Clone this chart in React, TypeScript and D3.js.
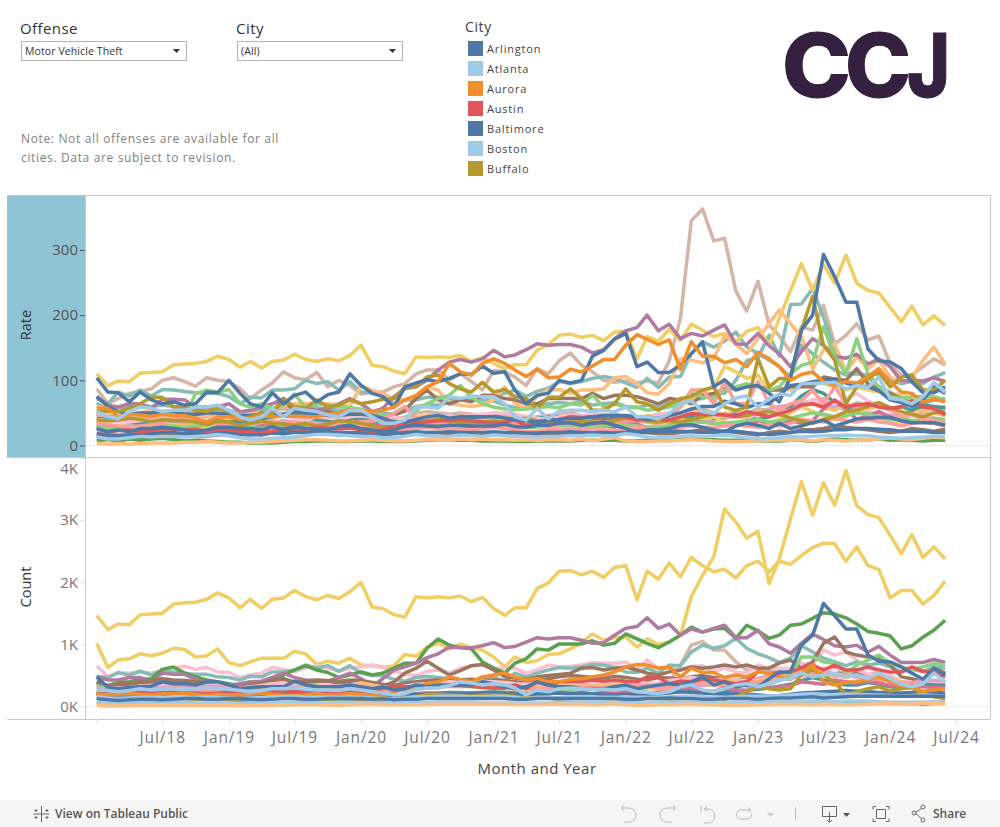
import React, { useRef, useEffect } from 'react';
import * as d3 from 'd3';

const FONT = '"Open Sans", sans-serif';

const legendCities = ['Arlington', 'Atlanta', 'Aurora', 'Austin', 'Baltimore', 'Boston', 'Buffalo'];
const legendColors = ['#4e79a7', '#a0cbe8', '#f28e2b', '#e15759', '#4e79a7', '#a0cbe8', '#b6992d'];
const rateTicks = [0, 100, 200, 300];
const countTicks = [0, 1000, 2000, 3000, 4000];

// Tableau 20 colours the workbook cycles through
const BLUE = '#4e79a7', LBLUE = '#a0cbe8', ORANGE = '#f28e2b', LORANGE = '#ffbe7d', GREEN = '#59a14f',
  LGREEN = '#8cd17d', OLIVE = '#b6992d', YELLOW = '#f1ce63', TEAL = '#499894', LTEAL = '#86bcb6',
  RED = '#e15759', PINK = '#ff9d9a', ROSE = '#d37295', LPINK = '#fabfd2', PURPLE = '#b07aa1',
  LPURPLE = '#d4a6c8', BROWN = '#9d7660', TAN = '#d7b5a6';

// Monthly rate values, Jan 2018 to Jun 2024 (78 points each)
const rateYellow = [110,92,99,98,111,112,113,124,125,126,129,137,132,120,129,119,129,131,140,132,129,133,130,138,154,123,121,114,110,136,135,136,135,138,129,135,126,118,124,124,146,155,169,171,166,169,161,174,175,133,167,160,178,161,186,177,167,172,159,175,181,154,195,238,279,238,278,249,292,249,238,234,212,190,214,185,199,184];
const rateYellow2 = [36,32,30,30,32,32,34,34,34,32,32,32,30,28,30,30,30,30,32,30,30,30,32,34,32,30,28,30,34,38,40,42,44,46,46,46,48,48,46,44,42,40,40,42,42,44,44,44,44,42,46,44,48,59,72,81,90,121,113,103,108,85,87,85,90,95,95,90,85,90,85,82,80,78,70,68,72,70];
const rateYellow3 = [30,28,26,27,28,30,32,32,30,28,28,28,26,24,26,28,28,30,30,28,26,26,28,30,28,26,24,26,30,28,30,32,34,30,28,28,30,30,28,28,30,30,32,34,30,28,30,30,28,26,28,32,38,40,38,40,44,36,34,32,30,34,40,50,60,52,46,40,44,56,48,42,36,32,34,38,40,36];
const rateTan = [87,64,72,80,83,87,100,104,98,91,104,100,98,87,72,85,96,113,104,101,112,90,100,92,79,82,82,90,95,110,116,116,100,110,98,85,115,113,105,92,118,110,130,142,123,113,100,97,99,96,99,96,130,195,345,363,314,318,237,206,252,185,168,144,182,177,215,156,169,187,162,168,126,108,108,121,133,123];
const rateTan2 = [50,46,44,44,46,50,52,54,50,48,46,48,50,48,46,48,54,56,52,50,48,46,48,50,52,46,42,40,44,50,52,50,48,50,48,46,50,46,44,42,44,46,48,50,46,44,46,48,44,42,44,48,50,46,52,56,50,48,52,50,56,54,50,58,64,70,72,60,58,66,60,62,54,50,52,50,56,50];
const rateBlue = [104,82,81,67,82,70,64,67,62,64,82,81,100,80,64,59,81,64,77,82,67,78,82,110,92,80,75,59,90,96,101,98,103,110,109,122,111,113,85,64,77,80,100,96,100,137,146,163,172,121,128,112,112,123,141,159,90,101,85,90,92,80,67,105,177,200,293,259,220,220,148,130,128,118,98,81,81,90];
const rateBlue2 = [26,21,24,21,26,26,28,26,24,21,24,28,28,26,26,24,29,24,29,26,24,24,29,31,26,24,21,24,29,31,30,29,31,31,30,30,30,33,29,28,31,31,34,35,31,34,36,31,26,21,24,24,26,31,32,28,24,21,30,34,31,26,34,26,30,35,39,30,35,41,42,43,43,38,35,35,35,31];
const rateBlue3 = [75,60,52,48,50,50,52,52,48,48,50,50,48,46,46,48,50,48,52,50,48,46,46,48,48,46,42,36,36,40,44,46,42,44,44,44,44,42,40,38,36,38,40,42,42,44,46,46,46,44,40,42,46,50,56,60,60,68,64,58,64,64,78,92,94,98,100,102,96,92,90,84,70,66,60,70,90,80];
const rateBlue4 = [18,16,15,16,18,18,20,20,18,18,18,20,20,17,16,17,19,18,20,20,20,21,20,20,19,18,17,18,20,21,20,20,21,20,20,20,21,20,20,19,19,20,20,21,20,20,20,19,20,20,20,21,22,22,21,20,21,22,22,20,18,17,18,20,22,21,22,24,24,26,26,25,24,22,22,22,20,20];
const ratePurple = [75,62,59,64,64,57,71,71,70,59,59,59,64,52,54,59,64,72,59,57,54,57,64,72,64,52,57,75,87,90,100,116,128,132,128,133,146,136,139,147,156,154,155,155,151,142,147,164,176,181,200,176,186,164,172,168,177,185,156,155,172,153,141,121,144,164,154,137,134,140,125,133,121,99,100,99,104,98];
const rateOrange = [57,57,44,48,47,44,48,46,46,42,36,44,44,40,42,46,44,45,45,44,44,48,50,55,53,52,54,59,70,77,90,98,126,113,108,126,133,126,116,106,117,104,105,117,113,122,132,132,154,170,163,155,162,117,159,137,137,127,132,121,143,133,121,100,109,113,98,92,98,96,106,118,98,82,80,67,71,67];
const rateTeal = [72,64,82,76,85,76,86,85,83,81,80,80,75,64,74,73,85,85,87,100,95,98,85,98,82,81,80,64,70,70,74,74,72,72,70,75,75,80,85,75,83,88,98,95,98,103,106,103,96,89,103,89,105,106,141,159,151,160,174,151,141,131,121,105,154,141,128,116,108,110,108,110,100,95,98,95,105,112];
const rateTeal2 = [65,55,58,60,62,60,62,60,58,55,56,56,54,50,52,54,58,56,60,60,58,56,54,52,50,52,50,48,52,60,62,62,66,70,72,70,68,62,58,58,62,64,66,64,68,62,64,66,60,58,62,60,66,68,70,72,78,80,100,130,135,169,137,216,217,241,197,146,110,113,105,90,82,72,68,64,70,72];
const rateOlive = [54,52,52,57,64,74,74,59,59,54,52,57,52,39,44,49,49,70,59,57,70,59,62,70,64,67,71,72,90,90,105,108,95,87,82,97,82,86,75,72,57,74,74,87,72,54,54,64,87,67,64,54,64,72,75,85,90,59,54,59,133,90,103,103,177,229,154,131,64,90,103,113,90,105,108,85,85,100];
const rateOlive2 = [39,38,39,42,40,37,40,38,38,36,32,37,36,30,34,37,34,33,31,34,30,33,38,37,34,30,28,26,30,34,38,40,38,36,34,36,38,36,40,42,38,36,34,36,38,36,34,38,42,40,38,36,38,36,40,44,48,46,44,46,50,52,48,42,38,34,40,44,52,54,60,66,58,52,48,44,50,52];
const rateLightOrange = [60,56,52,48,50,54,48,46,50,52,48,44,50,46,48,50,52,60,64,64,66,64,62,60,92,85,80,72,70,75,90,85,64,62,60,62,70,90,64,57,75,85,86,80,85,85,87,104,106,95,81,79,95,133,131,127,133,169,156,141,164,187,208,187,167,118,146,156,113,136,118,131,105,98,103,131,151,125];
const rateLightOrange2 = [44,42,40,40,42,46,44,40,38,40,44,42,40,44,42,38,44,48,46,44,42,40,38,42,44,40,36,34,38,44,46,42,40,38,42,40,44,42,40,38,38,40,42,44,42,40,42,44,40,38,40,44,46,50,54,48,44,50,46,48,52,50,46,56,60,64,58,54,62,58,56,60,54,48,50,54,50,46];
const rateLightGreen = [36,30,28,30,32,34,34,36,42,80,85,82,86,64,59,64,57,62,79,59,64,62,60,58,56,50,46,42,39,54,64,72,77,92,74,64,59,56,55,56,58,60,58,64,62,77,59,64,59,59,54,56,59,64,80,75,72,85,90,95,90,85,90,110,123,128,182,136,110,164,110,90,75,72,75,75,75,70];
const rateLightGreen2 = [30,26,24,26,28,28,30,30,28,30,32,32,34,30,28,26,28,30,32,32,30,28,28,30,32,30,26,24,26,30,28,30,28,30,32,30,30,32,30,28,28,30,30,32,30,28,30,32,32,30,28,28,30,32,34,36,34,34,36,38,40,36,38,42,46,50,48,44,46,50,48,44,40,42,38,40,42,40];
const rateBrown = [48,44,42,40,42,44,46,46,44,42,40,40,38,38,42,50,52,72,52,48,50,52,48,46,50,44,42,46,54,72,85,70,64,70,67,77,77,72,70,64,64,72,72,72,72,80,72,77,77,75,70,64,72,70,64,77,80,87,87,90,92,85,85,90,90,90,105,102,100,118,95,85,80,72,64,54,54,59];
const rateLightBlue = [52,44,41,52,59,57,52,54,54,59,59,62,54,44,39,44,57,44,57,54,52,47,44,54,54,44,34,34,39,59,59,57,75,72,76,75,75,64,44,39,57,41,53,54,54,52,54,52,59,44,44,41,49,64,69,52,49,64,73,76,59,72,79,77,95,95,96,97,87,92,89,105,72,70,64,75,97,82];
const rateRed = [26,21,23,24,21,23,26,25,24,25,22,24,24,22,22,21,22,26,27,25,28,27,26,27,24,22,24,30,33,35,36,38,38,40,38,36,34,36,39,31,36,39,40,44,43,44,44,44,44,39,44,41,39,44,49,48,48,47,45,52,48,44,49,54,62,64,59,69,59,62,64,59,57,59,69,59,57,47];
const ratePink = [35,32,30,28,30,32,34,40,44,38,34,32,30,30,34,36,38,34,36,34,32,30,30,34,36,38,40,50,60,42,34,36,34,32,32,30,30,32,34,32,30,30,32,34,34,36,36,36,38,38,36,34,40,60,85,85,64,98,64,64,98,64,54,64,69,85,64,90,64,57,64,62,54,44,49,39,39,34];
const ratePink2 = [20,18,17,18,20,22,24,26,24,22,20,20,24,28,24,22,24,26,26,24,24,26,24,28,30,26,22,20,24,26,28,26,26,24,24,26,28,26,24,22,22,24,24,26,24,26,24,22,26,28,26,24,24,28,30,28,28,30,32,30,28,32,30,34,40,38,36,42,38,36,40,36,34,30,34,36,34,30];
const ratePinkLight = [40,38,36,36,38,40,44,50,46,42,40,44,48,44,42,44,48,46,42,40,44,42,40,44,46,44,42,44,40,40,42,44,46,44,46,48,50,50,48,44,42,40,44,46,46,48,48,46,44,42,44,46,50,48,50,48,46,44,44,42,48,50,52,54,60,70,66,64,72,80,68,62,56,50,44,46,42,40];
const ratePurpleLight = [32,30,28,30,32,34,36,36,34,20,22,30,34,36,34,32,36,38,36,34,36,34,32,34,36,34,32,30,32,34,38,36,34,38,40,38,36,34,32,30,34,32,36,38,36,36,38,36,34,36,38,36,34,32,34,36,40,42,44,50,52,56,60,62,64,66,60,58,56,54,50,48,46,44,46,50,52,48];
const rateGreen = [8,9,7,10,8,10,11,9,7,8,7,6,5,5,4,4,4,5,6,6,7,7,6,6,7,7,6,6,6,7,8,9,9,8,8,7,7,7,6,6,7,7,7,7,8,8,8,8,7,7,8,8,8,9,10,9,9,8,8,8,7,7,7,8,8,6,8,10,9,8,9,10,8,9,8,7,8,8];
const rateLightBlueLow = [13,10,10,12,14,13,14,14,13,14,15,17,15,12,10,10,11,12,13,15,17,17,16,15,14,14,12,12,14,17,15,14,14,16,15,14,16,15,14,14,13,14,14,15,15,16,15,15,18,16,13,12,13,14,15,14,15,16,14,12,10,11,12,14,13,14,15,15,16,15,15,13,12,11,12,13,14,14];
const rateOrangeLow = [3,2,3,2,3,4,4,4,5,5,6,5,4,4,5,5,6,7,8,9,9,8,7,7,8,9,8,7,7,8,9,10,9,10,9,10,9,9,8,9,8,9,9,8,10,7,10,12,7,6,6,7,7,8,9,8,7,6,6,6,7,8,9,8,9,7,9,8,7,8,9,10,12,10,9,11,13,12];
const rateBrownLow = [15,12,10,10,12,14,16,16,15,14,14,16,18,20,18,16,20,22,22,20,18,18,16,18,20,22,22,20,18,18,20,20,18,20,18,16,18,18,20,18,16,15,16,18,16,18,18,16,20,22,20,18,18,20,22,24,20,22,20,18,16,20,22,20,24,24,26,30,28,26,24,22,20,22,26,24,22,25];
const rateTealDark = [42,40,38,36,34,36,38,40,40,42,40,38,36,36,38,40,44,46,50,42,40,38,40,42,40,38,36,34,36,38,42,44,46,44,42,44,46,42,40,40,42,44,44,42,44,42,42,40,38,36,38,42,44,40,44,46,42,44,48,44,40,44,52,60,76,86,80,66,58,60,64,60,56,60,54,62,60,58];
const rateRose = [30,28,26,24,26,28,30,28,26,24,22,24,26,28,26,30,32,30,34,30,28,26,30,34,38,34,30,28,34,34,32,30,32,30,28,30,32,34,30,30,32,34,34,32,30,32,30,28,34,32,28,26,30,34,38,36,34,32,34,30,38,34,32,38,34,38,56,70,56,40,46,52,44,38,36,36,34,32];

// Monthly count values, same months
const countYellowA = [1470,1240,1330,1320,1480,1490,1500,1650,1670,1680,1730,1830,1750,1590,1730,1580,1730,1750,1870,1770,1720,1790,1740,1850,2000,1600,1580,1480,1440,1770,1750,1770,1750,1780,1690,1760,1580,1470,1590,1590,1900,1990,2180,2190,2120,2180,2080,2240,2270,1720,2180,2050,2310,2090,2400,2270,2170,2210,2070,2270,2340,2170,2340,2290,2430,2560,2630,2620,2340,2570,2270,2210,1750,1870,1870,1650,1790,2020];
const countYellowB = [1020,630,750,770,850,820,860,940,920,800,820,930,710,660,720,780,780,780,890,850,680,730,700,780,670,660,630,660,840,810,960,1020,930,1010,950,910,800,640,800,710,740,840,850,930,1030,1170,1070,1110,1120,960,1090,1000,1040,1150,1770,2110,2410,3180,2970,2710,2820,1980,2380,3020,3620,3080,3600,3240,3800,3230,3090,3040,2760,2460,2770,2400,2570,2380];
const countGreen = [400,340,390,400,440,450,600,640,540,480,430,400,370,320,350,360,400,510,590,660,590,550,470,510,560,510,540,620,700,700,940,1090,990,950,930,720,620,540,700,770,930,910,1010,1010,1010,1060,990,1020,1170,1090,1020,950,1040,1150,1280,1200,1250,1260,1100,1310,1220,1100,1150,1310,1330,1420,1510,1490,1430,1330,1210,1180,1140,930,980,1120,1230,1390];
const countPurple = [480,430,430,470,470,400,540,520,520,440,370,390,350,370,400,410,470,540,470,430,420,410,470,540,450,330,450,590,640,700,790,850,960,950,950,980,1030,950,970,1040,1110,1090,1110,1110,1070,1020,1030,1150,1260,1290,1430,1260,1330,1150,1250,1200,1260,1310,1110,1110,1230,1010,960,860,1020,1170,1080,980,960,990,880,970,830,710,710,710,760,710];
const countPinkLight = [660,480,540,540,560,540,590,620,650,600,630,560,550,470,510,540,630,600,560,620,660,620,570,620,640,670,640,570,520,500,570,590,540,620,660,680,620,620,620,540,590,670,640,650,670,710,700,700,720,590,750,620,620,590,650,660,560,620,560,540,670,620,620,620,700,670,910,830,880,750,620,560,510,400,350,350,350,290];
const countPinkLight2 = [320,300,300,310,330,340,350,370,360,340,340,350,320,300,320,340,370,380,350,340,350,340,330,350,380,340,320,310,330,360,370,380,400,390,400,410,400,390,370,360,380,400,400,410,420,400,380,400,410,400,370,380,420,440,470,440,420,450,430,420,440,470,480,490,500,520,580,620,560,590,530,500,440,400,390,380,400,370];
const countTeal = [490,470,550,510,570,510,580,560,540,520,520,480,470,430,490,480,560,560,590,670,620,660,570,660,540,500,500,440,410,470,490,470,450,410,400,440,480,400,540,480,540,590,630,620,640,680,670,630,560,550,620,540,670,660,880,990,940,980,1100,940,850,790,710,780,980,880,780,720,660,720,670,700,640,560,600,560,640,620];
const countBlue = [480,310,290,310,320,330,400,370,370,350,400,400,350,290,310,320,320,320,410,350,320,320,320,350,320,290,320,270,290,350,320,350,350,350,350,400,370,320,290,320,400,350,320,320,290,290,290,320,350,290,320,350,370,350,400,480,350,400,320,350,320,450,560,560,990,1150,1660,1460,1250,1250,830,730,720,640,540,440,620,510];
const countTan = [300,290,300,310,340,360,350,380,390,370,360,330,300,280,320,350,380,420,380,360,340,330,320,340,360,300,310,340,360,380,400,420,390,380,360,330,340,330,340,350,380,360,390,400,390,360,340,330,340,330,340,340,400,670,990,1050,910,910,720,590,620,600,560,520,560,530,620,500,540,600,520,540,440,350,340,380,420,400];
const countBrown = [400,310,340,360,390,400,420,400,420,390,370,340,340,300,340,360,430,450,350,370,400,410,380,370,390,380,330,400,540,620,730,620,510,580,660,680,590,480,460,440,480,500,520,540,620,630,590,620,640,590,540,510,560,590,640,620,640,670,640,670,620,620,700,750,620,720,1020,1120,880,830,800,780,670,480,450,400,620,540];
const countBrown2 = [380,340,360,380,400,420,450,430,420,400,400,380,340,320,360,380,420,450,400,410,430,420,410,430,420,390,360,340,380,400,420,430,420,430,440,420,430,420,400,380,420,450,480,500,490,470,460,490,470,440,430,470,460,450,480,500,470,440,420,450,430,470,500,560,600,620,550,520,580,540,500,480,420,380,360,340,400,380];
const countOrange = [210,190,200,210,200,190,210,210,220,200,180,200,190,190,200,220,200,190,180,190,200,190,190,210,200,180,170,240,290,320,370,400,480,440,400,480,510,540,480,430,450,400,400,440,450,480,510,560,640,680,670,620,640,480,620,550,550,470,510,480,560,540,480,440,540,670,400,350,390,400,440,480,400,340,320,250,270,290];
const countLightOrange2 = [240,230,230,240,250,270,260,250,240,230,230,240,260,270,250,230,260,280,290,300,310,290,300,320,380,350,300,260,270,300,320,330,360,340,400,410,340,300,280,260,320,340,360,350,330,340,350,360,380,320,300,280,300,400,420,400,390,430,400,380,430,470,520,560,600,660,570,500,470,510,420,480,460,400,370,330,350,300];
const countRed = [210,200,190,220,230,220,230,230,220,200,210,220,240,230,220,210,240,260,240,250,260,240,250,240,230,220,300,330,320,320,310,320,340,340,330,310,300,300,350,290,400,350,400,410,410,430,410,430,410,400,480,470,370,410,400,440,430,400,370,400,560,540,540,560,620,670,590,670,590,590,640,590,560,560,640,570,560,480];
const countLightBlue = [270,260,240,260,290,270,280,290,280,290,300,290,280,260,240,260,290,290,300,280,270,270,260,290,270,240,220,190,210,280,300,300,340,400,380,350,370,350,300,190,270,240,290,300,290,280,280,270,290,240,230,210,240,320,350,270,240,290,350,370,320,370,430,450,540,480,510,540,480,510,450,540,450,360,320,370,540,400];
const countLightBlue2 = [160,140,130,140,150,150,150,160,160,150,150,150,140,130,140,150,160,160,170,150,150,150,150,160,150,140,130,130,140,160,160,170,170,170,160,160,170,170,150,130,150,140,150,160,160,160,150,150,160,150,150,150,160,170,170,160,150,150,160,170,170,170,180,190,200,210,200,190,200,200,190,190,180,170,180,190,180,170];
const countRose = [170,150,150,150,170,170,180,190,170,170,170,180,190,170,160,170,190,190,170,170,180,180,170,180,200,180,160,170,190,200,220,210,210,220,220,210,220,210,200,190,210,210,230,220,210,210,230,220,240,210,210,230,240,280,300,260,250,300,270,260,310,300,320,340,400,380,360,430,400,380,400,380,340,320,340,320,310,300];
const countOlive = [130,120,110,120,130,130,120,130,130,120,120,110,110,100,110,120,130,140,130,110,110,120,120,120,110,110,100,130,150,160,200,200,190,180,170,190,190,180,170,140,150,140,120,130,140,150,130,130,120,120,130,130,120,130,130,150,130,120,160,240,320,290,270,290,510,590,510,400,190,240,290,320,250,290,310,190,160,130];
const countBlue2 = [130,110,100,110,120,120,110,120,130,130,120,120,130,130,120,110,120,130,130,120,120,130,130,130,130,120,130,110,120,120,130,130,130,130,130,130,130,130,120,120,130,130,130,130,130,130,130,130,120,120,130,130,140,130,130,120,120,130,130,130,120,130,140,140,150,160,140,150,160,170,170,170,170,170,170,170,170,170];
const countBlue3 = [200,180,170,170,190,180,190,190,180,180,190,190,180,170,180,190,190,190,200,190,180,180,170,180,190,180,170,160,180,200,200,200,210,210,210,220,220,210,200,200,210,210,220,210,220,210,200,190,200,190,190,210,220,240,230,220,210,200,210,200,190,170,180,200,220,230,240,250,260,250,240,230,220,220,230,240,230,220];
const countLightGreen = [340,280,260,270,280,280,270,280,320,290,300,300,290,250,260,280,300,320,310,340,330,300,280,270,260,250,240,250,270,290,300,320,340,330,320,310,300,290,300,280,260,270,270,280,290,280,270,270,290,280,290,300,310,330,380,360,340,340,390,330,360,360,420,500,800,800,720,700,540,670,750,830,700,640,600,640,690,670];
const countPink = [250,220,220,230,250,260,280,300,290,270,260,280,300,310,290,280,320,310,290,270,260,260,240,260,290,270,270,280,270,280,300,310,330,320,340,340,340,320,310,300,290,300,310,320,310,320,310,310,320,340,350,300,300,350,370,380,350,340,370,380,400,430,430,460,510,490,560,490,520,470,460,430,430,380,390,340,340,360];
const countPurpleLight = [300,280,270,280,300,300,310,320,320,340,330,330,280,270,290,310,330,320,300,310,300,310,340,330,350,300,280,270,290,320,310,320,340,370,340,350,350,340,320,310,340,330,350,350,340,320,300,300,330,340,320,290,320,340,330,340,360,370,400,400,460,500,520,560,540,510,560,530,510,490,480,440,420,400,380,430,420,420];
const countTealDark = [220,200,190,200,210,210,220,220,220,220,210,200,190,180,190,200,210,220,220,210,200,190,200,210,200,190,170,180,190,210,220,220,230,230,220,230,240,230,220,210,210,220,220,210,220,210,200,200,210,210,190,200,230,250,270,240,220,240,270,260,280,300,330,360,420,470,430,380,350,350,390,360,320,300,310,360,350,340];
const countLightBlueLow = [70,50,50,60,60,60,60,70,70,60,60,60,50,50,60,60,60,70,70,70,60,60,70,70,60,60,60,60,60,70,60,70,70,70,70,60,60,60,60,60,60,60,70,70,70,70,70,70,70,60,60,70,70,70,70,60,60,60,70,70,70,70,80,80,90,90,90,80,90,90,90,80,70,70,70,70,80,80];
const countOrangeLow = [20,10,10,15,20,20,20,20,25,20,20,20,20,15,20,20,25,30,30,30,30,25,25,30,35,40,35,30,30,30,35,40,40,40,40,40,40,40,35,35,35,40,40,35,40,30,35,45,30,25,25,30,30,35,40,35,30,25,25,25,30,35,40,35,40,30,40,35,30,35,40,45,50,45,40,50,55,50];
const countGreenLow = [50,50,40,60,50,60,60,50,40,50,40,40,30,30,30,30,30,30,40,40,40,40,40,40,40,40,40,40,40,40,50,50,50,50,50,40,40,40,40,40,40,40,40,50,50,50,50,50,40,40,50,50,50,60,60,50,50,50,50,50,40,40,40,50,50,40,50,60,50,50,50,60,50,50,50,40,50,50];

const rateLines: [string, number[]][] = [
  [TAN, rateTan], [LTEAL, rateTeal2], [LTEAL, rateTeal], [YELLOW, rateYellow], [LORANGE, rateLightOrange],
  [YELLOW, rateYellow2], [PURPLE, ratePurple], [BROWN, rateBrown], [TAN, rateTan2], [LGREEN, rateLightGreen], [LPURPLE, ratePurpleLight],
  [LORANGE, rateLightOrange2], [TEAL, rateTealDark], [YELLOW, rateYellow3], [ROSE, rateRose], [LPINK, ratePinkLight], [LGREEN, rateLightGreen2],
  [PINK, ratePink], [PINK, ratePink2], [BROWN, rateBrownLow], [BLUE, rateBlue4],
  [GREEN, rateGreen], [LORANGE, rateOrangeLow], [OLIVE, rateOlive2], [RED, rateRed], [BLUE, rateBlue2],
  [BLUE, rateBlue3], [OLIVE, rateOlive], [BLUE, rateBlue], [ORANGE, rateOrange], [LBLUE, rateLightBlueLow], [LBLUE, rateLightBlue],
];

const countLines: [string, number[]][] = [
  [YELLOW, countYellowA], [YELLOW, countYellowB], [TAN, countTan], [LPINK, countPinkLight], [LTEAL, countTeal],
  [GREEN, countGreen], [PURPLE, countPurple], [BROWN, countBrown], [BROWN, countBrown2], [LPINK, countPinkLight2],
  [LGREEN, countLightGreen], [LPURPLE, countPurpleLight], [LORANGE, countLightOrange2],
  [PINK, countPink], [TEAL, countTealDark], [ROSE, countRose], [BLUE, countBlue3], [OLIVE, countOlive], [RED, countRed],
  [ORANGE, countOrange], [BLUE, countBlue], [LBLUE, countLightBlue], [LBLUE, countLightBlue2], [GREEN, countGreenLow], [LBLUE, countLightBlueLow],
  [BLUE, countBlue2], [LORANGE, countOrangeLow],
];

const months = d3.timeMonth.range(new Date(2018, 0, 1), new Date(2024, 6, 1));
const xTicks = d3.timeMonth.every(6)!.range(new Date(2018, 0, 1), new Date(2024, 7, 1));

const App: React.FC = () => {
  const svgRef = useRef<SVGSVGElement | null>(null);

  useEffect(() => {
    if (!svgRef.current) return;
    const svg = d3.select(svgRef.current);
    svg.selectAll('*').remove();

    const x = d3.scaleTime().domain([new Date(2018, 0, 1), new Date(2024, 6, 1)]).range([96.7, 956]);
    const yRate = d3.scaleLinear().domain([0, 300]).range([445.5, 250]);
    const yCount = d3.scaleLinear().domain([0, 4000]).range([706.7, 458]);

    const label = (t: string, px: number, py: number, size: number, fill: string, spacing = 0) =>
      svg.append('text').attr('x', px).attr('y', py).attr('font-size', size).attr('fill', fill)
        .attr('letter-spacing', spacing).text(t);

    // filters
    label('Offense', 20, 34, 15, '#333', 0.4);
    label('City', 236, 34, 15, '#333', 0.5);
    [[21, 'Motor Vehicle Theft'], [237, '(All)']].forEach(([bx, txt]) => {
      const l = bx as number;
      svg.append('rect').attr('x', l + 0.5).attr('y', 41.5).attr('width', 165).attr('height', 19)
        .attr('fill', '#fff').attr('stroke', '#b4b4b4');
      label(txt as string, l + 4, 54.5, 10.5, '#333', 0.1);
      svg.append('path').attr('d', `M${l + 152},49 h7 l-3.5,4 z`).attr('fill', '#333');
    });

    // note
    label('Note: Not all offenses are available for all', 21, 143, 12, '#7f7f7f', 0.65);
    label('cities. Data are subject to revision.', 21, 161.5, 12, '#7f7f7f', 0.65);

    // legend
    label('City', 465, 32, 14, '#444', 0.6);
    legendCities.forEach((c, i) => {
      svg.append('rect').attr('x', 468).attr('y', 41 + i * 20).attr('width', 15).attr('height', 15).attr('fill', legendColors[i]);
      label(c, 487, 52.5 + i * 20, 11, '#444', 0.8);
    });

    // logo
    [['C', 782, 69], ['C', 845, 66], ['J', 907, 43]].forEach(([ch, lx, w]) => {
      svg.append('text').attr('x', lx as number).attr('y', 97).attr('font-family', 'Inter, sans-serif')
        .attr('font-weight', 800).attr('font-size', 88).attr('fill', '#35203f')
        .attr('stroke', '#35203f').attr('stroke-width', 1)
        .attr('textLength', w as number).attr('lengthAdjust', 'spacingAndGlyphs').text(ch as string);
    });

    // panes
    svg.append('rect').attr('x', 7).attr('y', 196).attr('width', 78).attr('height', 261).attr('fill', '#8fc4d4');
    const frame = svg.append('g').attr('stroke', '#c8c8c8').attr('fill', 'none');
    frame.append('path').attr('d', 'M7,195.5 H990.5 V719.5 H7 M7,457.5 H990.5 M85.5,196 V719');

    // zero lines
    const zeros = svg.append('g').attr('stroke', '#c4c4c4').attr('stroke-dasharray', '1 3');
    zeros.append('line').attr('x1', 86).attr('x2', 990).attr('y1', yRate(0)).attr('y2', yRate(0));
    zeros.append('line').attr('x1', 86).attr('x2', 990).attr('y1', yCount(0)).attr('y2', yCount(0));

    // lines
    const drawLines = (sets: [string, number[]][], y: d3.ScaleLinear<number, number>) => {
      const line = d3.line<number>().x((_, i) => x(months[i])).y(d => y(d));
      svg.append('g').selectAll('path').data(sets).enter().append('path')
        .attr('d', d => line(d[1]))
        .attr('fill', 'none').attr('stroke', d => d[0])
        .attr('stroke-width', 3.5).attr('stroke-linejoin', 'round');
    };
    drawLines(rateLines, yRate);
    drawLines(countLines, yCount);

    // axes
    const rateAxis = svg.append('g').attr('transform', 'translate(85,0)')
      .call(d3.axisLeft(yRate).tickValues(rateTicks).tickSize(5).tickPadding(2));
    rateAxis.select('.domain').remove();
    rateAxis.selectAll('line').attr('stroke', '#555');
    rateAxis.selectAll('text').attr('font-size', 15).attr('font-family', FONT).attr('fill', '#555');

    const countAxis = svg.append('g').attr('transform', 'translate(85,0)')
      .call(d3.axisLeft(yCount).tickValues(countTicks).tickSize(5).tickPadding(2)
        .tickFormat(d => `${+d / 1000}K`));
    countAxis.select('.domain').remove();
    countAxis.selectAll('line').attr('stroke', '#e2e2e2');
    countAxis.selectAll('text').attr('font-size', 15).attr('font-family', FONT).attr('fill', '#777');
    countAxis.selectAll<SVGTextElement, number>('text').filter(d => d === 4000).attr('dy', '1.05em');

    const fmt = d3.timeFormat('%b/%y');
    const xAxis = svg.append('g').attr('transform', 'translate(0,719)')
      .call(d3.axisBottom(x).tickValues(xTicks).tickSize(5).tickPadding(8)
        .tickFormat((d, i) => (i === 0 ? '' : fmt(d as Date))));
    xAxis.select('.domain').remove();
    xAxis.selectAll('line').attr('stroke', '#e2e2e2');
    xAxis.selectAll('text').attr('font-size', 15.5).attr('letter-spacing', 0.9).attr('font-family', FONT).attr('fill', '#777');

    // axis titles
    svg.append('text').attr('transform', 'translate(31,325) rotate(-90)').attr('text-anchor', 'middle')
      .attr('font-size', 14.5).attr('fill', '#333').text('Rate');
    svg.append('text').attr('transform', 'translate(31,587) rotate(-90)').attr('text-anchor', 'middle')
      .attr('font-size', 14.5).attr('fill', '#333').text('Count');
    svg.append('text').attr('x', 537).attr('y', 774).attr('text-anchor', 'middle')
      .attr('font-size', 15).attr('letter-spacing', 0.5).attr('fill', '#444').text('Month and Year');

    // toolbar
    svg.append('rect').attr('x', 0).attr('y', 800).attr('width', 1000).attr('height', 27).attr('fill', '#f5f5f5');
    label('View on Tableau Public', 55, 818, 12, '#555').attr('font-weight', 600);
    label('Share', 933, 818, 12, '#555').attr('font-weight', 600);
    const icons = svg.append('g').attr('fill', 'none').attr('stroke', '#666');
    // tableau mark
    icons.append('path').attr('d', 'M41.5,806 V822 M33.5,814 H49.5 M36,809 V812 M34.5,810.5 H37.5 M47,809 V812 M45.5,810.5 H48.5 M36,816 V819 M34.5,817.5 H37.5 M47,816 V819 M45.5,817.5 H48.5');
    // undo, redo, revert, refresh
    const faint = svg.append('g').attr('fill', 'none').attr('stroke', '#bbb');
    faint.append('path').attr('d', 'M621,808 h8 a7,7 0 0 1 0,14 h-5 M621,808 l3,-2.5 M621,808 l3,2.5');
    faint.append('path').attr('d', 'M676,808 h-9 a7,7 0 0 0 0,14 h5 M676,808 l-3,-2.5 M676,808 l-3,2.5');
    faint.append('path').attr('d', 'M701,806 v6 M704,809 h4 a7,7 0 0 1 0,14 h-4 M704,809 l3,-2.5 M704,809 l3,2.5');
    faint.append('path').attr('d', 'M751,810 h-10 a4.5,4.5 0 0 0 0,9 h6 a4.5,4.5 0 0 0 4.5,-5 M748,807.5 l3,2.5 l-3,2.5');
    faint.append('path').attr('d', 'M795.5,807 V820');
    svg.append('path').attr('d', 'M767,813 h7 l-3.5,4 z').attr('fill', '#ccc');
    // download, fullscreen, share
    icons.append('path').attr('d', 'M822.5,806.5 h14 v10 h-14 z M829.5,812 v10 M827,820 l2.5,2.5 l2.5,-2.5');
    svg.append('path').attr('d', 'M843,813 h7 l-3.5,4 z').attr('fill', '#555');
    icons.append('path').attr('d', 'M876,806.5 h-3 v3 M886,806.5 h3 v3 M876,821.5 h-3 v-3 M886,821.5 h3 v-3 M876.5,809.5 h9 v9 h-9 z');
    icons.append('path').attr('d', 'M922,808 l-7,5 l7,6').attr('stroke-width', 1);
    icons.append('circle').attr('cx', 914).attr('cy', 813).attr('r', 2).attr('fill', '#f5f5f5');
    icons.append('circle').attr('cx', 923).attr('cy', 807).attr('r', 2).attr('fill', '#f5f5f5');
    icons.append('circle').attr('cx', 923).attr('cy', 820).attr('r', 2).attr('fill', '#f5f5f5');
  }, []);

  return (
    <svg
      ref={svgRef}
      width={1000}
      height={827}
      style={{ position: 'absolute', left: 0, top: 0, fontFamily: FONT }}
    />
  );
};

export default App;
